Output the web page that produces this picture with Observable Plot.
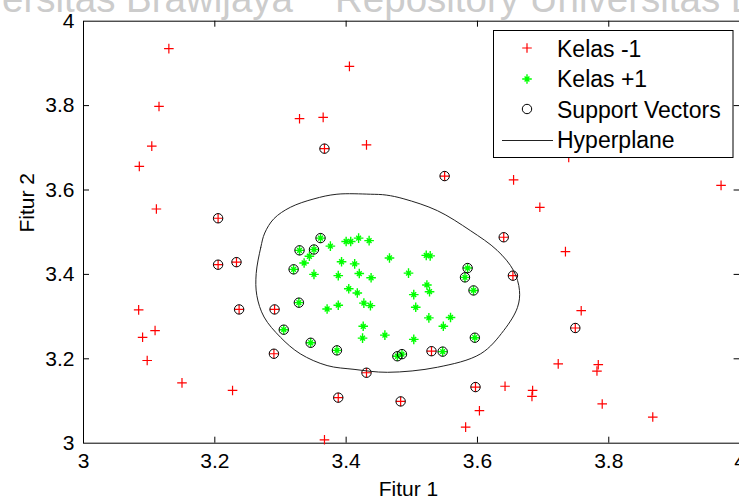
<!DOCTYPE html>
<html>
<head>
<meta charset="utf-8">
<script src="https://cdn.jsdelivr.net/npm/d3@7"></script>
<script src="https://cdn.jsdelivr.net/npm/@observablehq/plot@0.6"></script>
<style>
  html, body { margin: 0; padding: 0; background: white; overflow: hidden; }
</style>
</head>
<body>
<div id="chart"></div>
<script>
// ---- Data ----
const xTicks = [3, 3.2, 3.4, 3.6, 3.8, 4];
const yTicks = [3, 3.2, 3.4, 3.6, 3.8, 4];

const legendLabels = ["Kelas -1", "Kelas +1", "Support Vectors", "Hyperplane"];
const axisLabels = ["Fitur 1", "Fitur 2"];
const watermark = ["Universitas Brawijaya", "Repository Universitas Brawijaya"];

// Kelas -1 (red +)
const kelasMin1 = [
  [3.130,3.935],[3.115,3.798],[3.104,3.704],[3.085,3.656],[3.111,3.555],
  [3.205,3.533],[3.329,3.769],[3.365,3.772],[3.367,3.698],[3.405,3.893],
  [3.431,3.707],[3.739,3.677],[3.550,3.633],[3.655,3.624],[3.971,3.611],
  [3.695,3.559],[3.640,3.488],[3.734,3.454],[3.205,3.423],[3.233,3.429],
  [3.084,3.316],[3.237,3.317],[3.291,3.317],[3.109,3.267],[3.090,3.251],
  [3.097,3.196],[3.290,3.212],[3.150,3.143],[3.227,3.125],[3.431,3.167],
  [3.388,3.108],[3.367,3.008],[3.654,3.397],[3.758,3.314],[3.749,3.273],
  [3.530,3.218],[3.723,3.188],[3.784,3.186],[3.782,3.171],[3.597,3.133],
  [3.642,3.135],[3.684,3.125],[3.683,3.111],[3.483,3.099],[3.790,3.093],
  [3.603,3.077],[3.867,3.062],[3.582,3.038]
];

// Kelas +1 (green *)
const kelasPlus1 = [
  [3.361,3.486],[3.329,3.457],[3.351,3.459],[3.320,3.412],[3.328,3.333],
  [3.305,3.269],[3.346,3.238],[3.386,3.220],[3.478,3.206],[3.485,3.211],
  [3.547,3.217],[3.596,3.250],[3.594,3.362],[3.581,3.393],[3.585,3.415],
  [3.376,3.467],[3.344,3.443],[3.336,3.427],[3.400,3.478],[3.407,3.478],
  [3.419,3.486],[3.435,3.480],[3.351,3.400],[3.393,3.430],[3.413,3.425],
  [3.420,3.402],[3.388,3.397],[3.438,3.392],[3.466,3.439],[3.522,3.445],
  [3.528,3.444],[3.495,3.403],[3.404,3.366],[3.417,3.356],[3.523,3.375],
  [3.527,3.359],[3.503,3.352],[3.427,3.332],[3.437,3.326],[3.388,3.327],
  [3.371,3.318],[3.506,3.322],[3.526,3.297],[3.559,3.298],[3.548,3.277],
  [3.426,3.277],[3.425,3.249],[3.459,3.256],[3.503,3.246]
];

// Support vectors (black o)
const supportVectors = [
  [3.205,3.533],[3.367,3.698],[3.550,3.633],[3.640,3.488],[3.205,3.423],
  [3.233,3.429],[3.237,3.317],[3.291,3.317],[3.290,3.212],[3.431,3.167],
  [3.388,3.108],[3.654,3.397],[3.749,3.273],[3.530,3.218],[3.597,3.133],
  [3.483,3.099],
  [3.361,3.486],[3.329,3.457],[3.351,3.459],[3.320,3.412],[3.328,3.333],
  [3.305,3.269],[3.346,3.238],[3.386,3.220],[3.478,3.206],[3.485,3.211],
  [3.547,3.217],[3.596,3.250],[3.594,3.362],[3.581,3.393],[3.585,3.415]
];

// Hyperplane (decision boundary contour)
const hyperplane = [
  [3.263,3.402],[3.270,3.464],[3.276,3.498],[3.290,3.532],[3.315,3.559],
  [3.351,3.579],[3.386,3.590],[3.437,3.590],[3.461,3.588],[3.488,3.579],
  [3.539,3.551],[3.589,3.504],[3.630,3.457],[3.655,3.409],[3.664,3.362],
  [3.661,3.322],[3.640,3.267],[3.605,3.212],[3.539,3.180],[3.463,3.168],
  [3.412,3.175],[3.371,3.184],[3.330,3.212],[3.300,3.251],[3.275,3.299],
  [3.264,3.350]
];

const toObj = a => a.map(([x, y]) => ({x, y}));

// ---- Symbols ----
const plusSymbol = {
  draw(ctx, size) {
    const r = Math.sqrt(size / Math.PI);
    ctx.moveTo(-r, 0); ctx.lineTo(r, 0);
    ctx.moveTo(0, -r); ctx.lineTo(0, r);
  }
};
const starSymbol = {
  draw(ctx, size) {
    const r = Math.sqrt(size / Math.PI);
    const d = r * 0.5;
    ctx.moveTo(-r, 0); ctx.lineTo(r, 0);
    ctx.moveTo(0, -r); ctx.lineTo(0, r);
    ctx.moveTo(-d, -d); ctx.lineTo(d, d);
    ctx.moveTo(-d, d); ctx.lineTo(d, -d);
  }
};

const font = "'Liberation Sans', Arial, Helvetica, sans-serif";
const tickLenX = 6 / 422;   // in y data units
const tickLenY = 6 / 656.6; // in x data units
const fmt = d => String(d);

const plot = Plot.plot({
  width: 739,
  height: 498,
  marginLeft: 83,
  marginRight: 0,
  marginTop: 21,
  marginBottom: 55,
  style: {fontFamily: font, background: "white", color: "black", overflow: "visible"},
  x: {domain: [3, 4], range: [83, 739.6]},
  y: {domain: [3, 4], range: [442.7, 20.7]},
  marks: [
    // frame (left, top, bottom)
    Plot.ruleY([3, 4], {stroke: "black", strokeWidth: 1}),
    Plot.ruleX([3], {stroke: "black", strokeWidth: 1}),
    // inward ticks
    Plot.ruleX(xTicks.slice(1, -1), {x: d => d, y1: 3, y2: 3 + tickLenX, stroke: "black"}),
    Plot.ruleX(xTicks.slice(1, -1), {x: d => d, y1: 4, y2: 4 - tickLenX, stroke: "black"}),
    Plot.ruleY(yTicks.slice(1, -1), {y: d => d, x1: 3, x2: 3 + tickLenY, stroke: "black"}),
    Plot.ruleY(yTicks.slice(1, -1), {y: d => d, x1: 4, x2: 4 - tickLenY, stroke: "black"}),
    // axes labels
    Plot.axisX(xTicks, {anchor: "bottom", tickSize: 0, tickPadding: 10, fontSize: 21, tickFormat: fmt, label: null}),
    Plot.axisY(yTicks, {anchor: "left", tickSize: 0, tickPadding: 9, fontSize: 21, tickFormat: fmt, label: null}),
    Plot.text([axisLabels[0]], {frameAnchor: "bottom", lineAnchor: "bottom", dy: 52, dx: -3, fontSize: 21, fill: "black"}),
    Plot.text([axisLabels[1]], {frameAnchor: "left", lineAnchor: "bottom", rotate: -90, dx: -50, fontSize: 21, fill: "black"}),
    // data
    Plot.dot(toObj(kelasMin1), {x: "x", y: "y", symbol: plusSymbol, r: 4.8, stroke: "#ff0000", fill: "none", strokeWidth: 1.2}),
    Plot.dot(toObj(kelasPlus1), {x: "x", y: "y", symbol: starSymbol, r: 4.8, stroke: "#00ff00", fill: "none", strokeWidth: 1.4}),
    Plot.dot(toObj(supportVectors), {x: "x", y: "y", r: 4.7, stroke: "black", fill: "none", strokeWidth: 1}),
    Plot.line(toObj(hyperplane), {x: "x", y: "y", curve: "catmull-rom-closed", stroke: "#222", strokeWidth: 1})
  ]
});

document.getElementById("chart").appendChild(plot);

const svg = d3.select(plot);

// ---- Watermark (faint, cut off at the top edge as in the source image) ----
const wm = svg.insert("g", ":first-child")
  .attr("fill", "#cccccc")
  .attr("font-family", font)
  .attr("font-size", 38.5);
wm.append("text").attr("x", 293).attr("y", 11.5).attr("text-anchor", "end").text(watermark[0]);
wm.append("text").attr("x", 335).attr("y", 11.5).attr("text-anchor", "start").text(watermark[1]);

// ---- Legend ----
const lg = svg.append("g").attr("font-family", font).attr("font-size", 23).attr("text-anchor", "start");
lg.append("rect").attr("x", 493.5).attr("y", 30.5).attr("width", 239.5).attr("height", 127)
  .attr("fill", "white").attr("stroke", "black").attr("stroke-width", 1);
const rows = [56.5, 87.3, 117.5, 148.3];
const centers = [48, 79, 109, 140];
lg.append("path").attr("transform", `translate(527,${centers[0]})`)
  .attr("d", d3.symbol(plusSymbol, Math.PI * 4.8 * 4.8)())
  .attr("stroke", "#ff0000").attr("stroke-width", 1.2).attr("fill", "none");
lg.append("path").attr("transform", `translate(527,${centers[1]})`)
  .attr("d", d3.symbol(starSymbol, Math.PI * 4.8 * 4.8)())
  .attr("stroke", "#00ff00").attr("stroke-width", 1.4).attr("fill", "none");
lg.append("circle").attr("cx", 527).attr("cy", centers[2]).attr("r", 4.7)
  .attr("stroke", "black").attr("fill", "none");
lg.append("line").attr("x1", 502).attr("x2", 553).attr("y1", centers[3] + 0.5).attr("y2", centers[3] + 0.5)
  .attr("stroke", "#222").attr("stroke-width", 1);
legendLabels.forEach((t, i) => {
  lg.append("text").attr("x", 557).attr("y", rows[i]).attr("fill", "black").attr("text-anchor", "start").text(t);
});
</script>
</body>
</html>
